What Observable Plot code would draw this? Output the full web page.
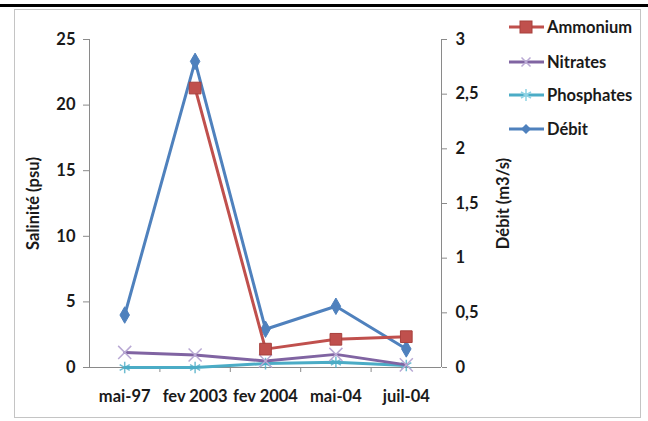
<!DOCTYPE html>
<html><head><meta charset="utf-8">
<script src="https://cdn.jsdelivr.net/npm/d3@7"></script>
<script src="https://cdn.jsdelivr.net/npm/@observablehq/plot@0.6"></script>
<style>
body{margin:0;background:#fff;}
#wrap{position:relative;width:648px;height:421px;overflow:hidden;font-family:Lato,sans-serif;font-weight:bold;color:#1a1a1a;}
#topline{position:absolute;left:0;top:4px;width:648px;height:3px;background:#000;}
#box{position:absolute;left:14px;top:9px;width:627px;height:409px;border:1px solid #c4c4c4;box-sizing:border-box;}
#chart{position:absolute;left:0;top:0;}
.item{position:absolute;left:508px;height:20px;display:flex;align-items:center;font-size:16.5px;}
.item svg{margin-right:2px;}
</style></head>
<body><div id="wrap"><div id="topline"></div><div id="box"></div><div id="chart"></div></div>
<script>
const categories = ["mai-97","fev 2003","fev 2004","mai-04","juil-04"];
const ammonium   = [null, 21.3, 1.4, 2.15, 2.35];
const nitrates   = [1.15, 0.95, 0.5, 1.0, 0.2];
const phosphates = [0, 0, 0.3, 0.4, 0.15];
const debit      = [0.48, 2.8, 0.35, 0.56, 0.17];
const leftTicks  = [0, 5, 10, 15, 20, 25];
const rightTicks = [0, 0.5, 1, 1.5, 2, 2.5, 3];
const seriesNames = ["Ammonium","Nitrates","Phosphates","Débit"];
const colors = {"Ammonium":"#C0504D","Nitrates":"#8064A2","Phosphates":"#4BACC6","Débit":"#4F81BD"};

const leftMax = 25, rightMax = 3, k = leftMax / rightMax;
const idx = categories.map((_, i) => i);
const rows = name => arr => idx.map(i => ({i, v: arr[i], s: name}));
const dAmm = rows("Ammonium")(ammonium);
const dNit = rows("Nitrates")(nitrates);
const dPho = rows("Phosphates")(phosphates);
const dDeb = rows("Débit")(debit).map(d => ({...d, v: d.v * k}));
const xDomain = [-0.5, categories.length - 0.5];
const bounds = d3.range(1, categories.length).map(i => i - 0.5);

const plot = Plot.plot({
  width: 648, height: 421,
  marginLeft: 89, marginRight: 207, marginTop: 39, marginBottom: 54,
  style: {fontFamily: "Lato, sans-serif", fontSize: "16.5px", fontWeight: "bold", background: "transparent", color: "#1a1a1a"},
  x: {domain: xDomain, axis: null},
  y: {domain: [0, leftMax], axis: null},
  marks: [
    Plot.ruleX([xDomain[0], xDomain[1]], {stroke: "#8a8a8a", strokeWidth: 1}),
    Plot.ruleY([0], {stroke: "#8a8a8a", strokeWidth: 1}),
    Plot.axisY({anchor: "left", ticks: leftTicks, tickSize: 6, tickPadding: 8, stroke: "#8a8a8a",
      label: "Salinité (psu)", labelAnchor: "center", labelArrow: "none", labelOffset: 62}),
    Plot.axisY({anchor: "right", ticks: rightTicks.map(t => t * k), tickSize: 5, tickPadding: 9, stroke: "#8a8a8a",
      tickFormat: v => String(+(v / k).toFixed(2)).replace(".", ","),
      label: "Débit (m3/s)", labelAnchor: "center", labelArrow: "none", labelOffset: 67}),
    Plot.axisX({ticks: bounds, tickFormat: () => "", tickSize: 5, stroke: "#8a8a8a", label: null}),
    Plot.axisX({ticks: idx, tickFormat: i => categories[i], tickSize: 0, tickPadding: 23, label: null}),
    Plot.line(dPho, {x: "i", y: "v", stroke: colors["Phosphates"], strokeWidth: 3}),
    Plot.dot(dPho, {x: "i", y: "v", symbol: "asterisk", r: 5.5, stroke: colors["Phosphates"], strokeWidth: 1.5, strokeOpacity: 0.8}),
    Plot.line(dNit, {x: "i", y: "v", stroke: colors["Nitrates"], strokeWidth: 3}),
    Plot.dot(dNit, {x: "i", y: "v", symbol: "times", r: 6, stroke: "#b9a9d4", strokeWidth: 1.5}),
    Plot.line(dDeb, {x: "i", y: "v", stroke: colors["Débit"], strokeWidth: 3}),
    Plot.dot(dDeb, {x: "i", y: "v", symbol: "diamond", r: 5, fill: colors["Débit"], stroke: colors["Débit"], strokeWidth: 1}),
    Plot.line(dAmm, {x: "i", y: "v", stroke: colors["Ammonium"], strokeWidth: 3}),
    Plot.dot(dAmm, {x: "i", y: "v", symbol: "square", r: 6.6, fill: colors["Ammonium"], stroke: "#a8403d", strokeWidth: 1})
  ]
});
document.getElementById("chart").appendChild(plot);

// legend
const legendTops = [17, 52, 85, 119];
const symbolPath = {
  "Ammonium": '<rect x="12" y="4" width="12" height="12" fill="#C0504D" stroke="#a8403d"/>',
  "Nitrates": '<path d="M13.5 5.5L22.5 14.5M22.5 5.5L13.5 14.5" stroke="#b9a9d4" stroke-width="1.5"/>',
  "Phosphates": '<path d="M18 4V16M13 7L23 13M23 7L13 13" stroke="#8fd3e4" stroke-width="1.5"/>',
  "Débit": '<path d="M18 5L23 10L18 15L13 10Z" fill="#4F81BD"/>'
};
const wrap = document.getElementById("wrap");
seriesNames.forEach((name, j) => {
  const div = document.createElement("div");
  div.className = "item";
  div.style.top = legendTops[j] + "px";
  div.innerHTML = `<svg width="37" height="20"><line x1="1" x2="36" y1="10" y2="10" stroke="${colors[name]}" stroke-width="3"/>${symbolPath[name]}</svg><span>${name}</span>`;
  wrap.appendChild(div);
});
</script></body></html>
